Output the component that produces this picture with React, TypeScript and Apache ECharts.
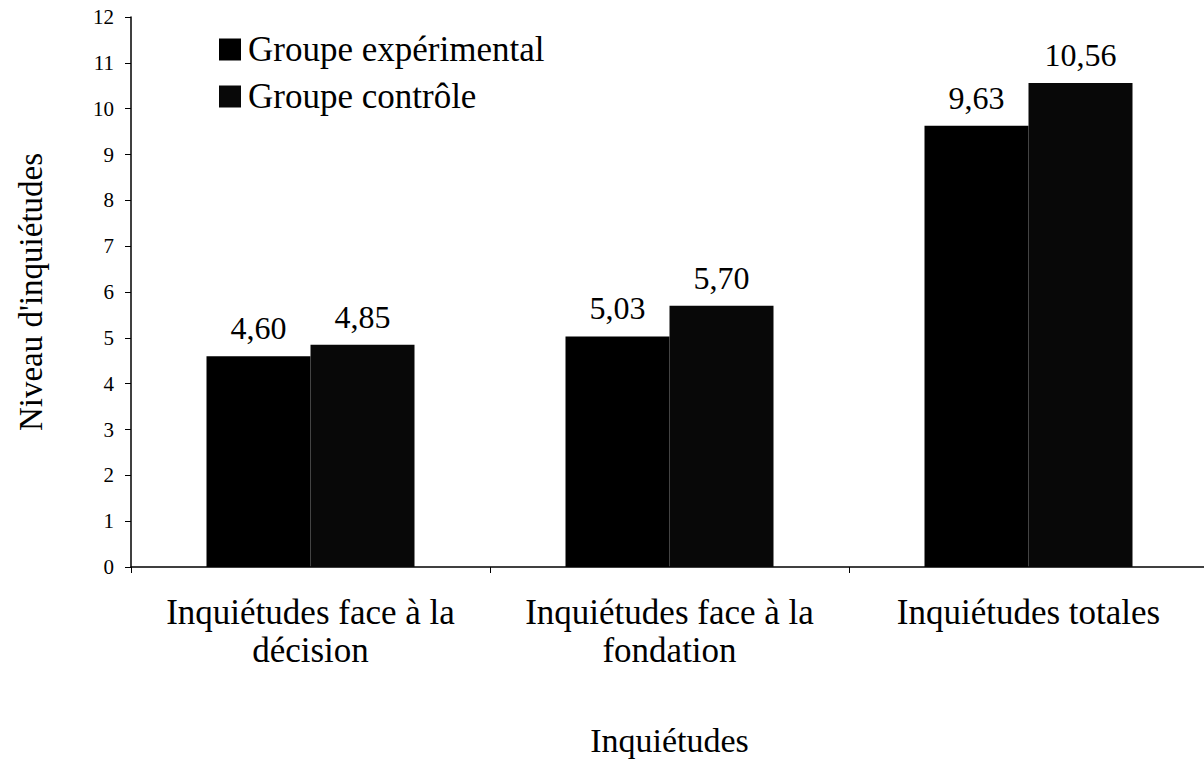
import React, { useEffect, useRef } from "react";
import * as echarts from "echarts";

const categories = ["Inquiétudes face à la\ndécision", "Inquiétudes face à la\nfondation", "Inquiétudes totales"];
const experimental = [4.6, 5.03, 9.63];
const controle = [4.85, 5.7, 10.56];
const seriesNames = ["Groupe expérimental", "Groupe contrôle"];
const yTicks = { min: 0, max: 12, interval: 1 };

const FONT = "Liberation Serif, serif";

export default function App() {
  const ref = useRef<HTMLDivElement>(null);
  useEffect(() => {
    const chart = echarts.init(ref.current!, null, { renderer: "svg" });
    const labelFmt = (p: any) => Number(p.value).toFixed(2).replace(".", ",");
    chart.setOption({
      animation: false,
      backgroundColor: "#ffffff",
      textStyle: { fontFamily: FONT, color: "#000" },
      legend: {
        orient: "vertical",
        left: 219,
        top: 32,
        padding: 0,
        itemWidth: 22,
        itemHeight: 22,
        itemGap: 12,
        icon: "rect",
        textStyle: { fontFamily: FONT, fontSize: 35, color: "#000", padding: [0, 0, 0, 2] },
        data: seriesNames,
      },
      grid: { left: 131, top: 17, bottom: 192, width: 1077, containLabel: false, outerBoundsMode: "none" },
      xAxis: {
        type: "category",
        data: categories,
        name: "Inquiétudes",
        nameLocation: "middle",
        nameGap: 156,
        nameTextStyle: { fontFamily: FONT, fontSize: 34, color: "#000" },
        axisLine: { lineStyle: { color: "#000", width: 1.5 } },
        axisTick: { show: true, length: 6, lineStyle: { color: "#000" } },
        axisLabel: { fontFamily: FONT, fontSize: 35, color: "#000", lineHeight: 38, margin: 26, interval: 0 },
      },
      yAxis: {
        type: "value",
        min: yTicks.min,
        max: yTicks.max,
        interval: yTicks.interval,
        name: "Niveau d'inquiétudes",
        nameLocation: "middle",
        nameGap: 84,
        nameTextStyle: { fontFamily: FONT, fontSize: 33, color: "#000" },
        axisLine: { show: true, lineStyle: { color: "#000", width: 1.5 } },
        axisTick: { show: true, length: 6, lineStyle: { color: "#000" } },
        axisLabel: { fontFamily: FONT, fontSize: 21, color: "#000", margin: 17 },
        splitLine: { show: false },
      },
      series: [
        {
          name: seriesNames[0],
          type: "bar",
          data: experimental,
          barWidth: 104,
          barGap: "0%",
          itemStyle: { color: "#000" },
          label: { show: true, position: "top", distance: 12, formatter: labelFmt, fontFamily: FONT, fontSize: 32, color: "#000" },
        },
        {
          name: seriesNames[1],
          type: "bar",
          data: controle,
          barWidth: 104,
          barGap: "0%",
          itemStyle: {
            color: "#080808",
            decal: { symbol: "rect", symbolSize: 0.2, color: "rgba(255,255,255,0.45)", dashArrayX: [1, 11], dashArrayY: [1, 13], rotation: 0 },
          },
          label: { show: true, position: "top", distance: 12, formatter: labelFmt, fontFamily: FONT, fontSize: 32, color: "#000" },
        },
      ],
    });
    return () => chart.dispose();
  }, []);
  return <div ref={ref} style={{ width: 1204, height: 759, position: "absolute", left: 0, top: 0 }} />;
}
